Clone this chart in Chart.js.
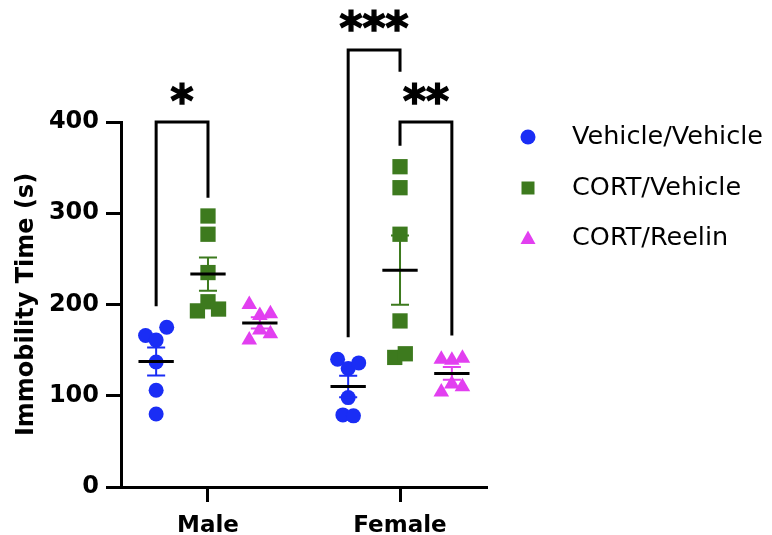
<!DOCTYPE html>
<html>
<head>
<meta charset="utf-8">
<script src="https://cdn.jsdelivr.net/npm/chart.js@4.4.1/dist/chart.umd.min.js"></script>
<style>
  html, body { margin: 0; padding: 0; background: #fff; }
</style>
</head>
<body>
<canvas id="immobility" width="772" height="535"></canvas>
<script>
const sexes = ['Male', 'Female'];
const groups = ['Vehicle/Vehicle', 'CORT/Vehicle', 'CORT/Reelin'];
const groupColors = ['#1a2df5', '#3d7a1e', '#e23ff0'];
const groupShapes = ['circle', 'rect', 'triangle'];
const groupRadius = [7.5, 10.8, 9];

// immobility time (s) per animal, [male, female]
const vehicleVehicle = [
  [166, 161, 175, 137, 106, 80],
  [140, 130, 136, 98, 79, 78]
];
const cortVehicle = [
  [193, 203, 195, 235, 277, 297],
  [351, 328, 277, 182, 142, 146]
];
const cortReelin = [
  [200, 188, 190, 161, 172, 168],
  [140, 139, 141, 104, 113, 110]
];
const groupValues = [vehicleVehicle, cortVehicle, cortReelin];

// significance brackets
const sigSex = [0, 1, 1];
const sigFrom = [0, 0, 1];
const sigTo = [1, 1, 2];
const sigTop = [400, 479, 400];
const sigLeftEnd = [198, 164, 374];
const sigRightEnd = [317, 455, 166];
const sigLabels = ['*', '***', '**'];

const groupOffset = [-0.27, 0, 0.27];
const jitterStep = 0.055;
const FONT = 'DejaVu Sans';

// spread points that sit close together (simple beeswarm)
function spreadX(values, center) {
  const order = values.map((v, i) => i).sort((a, b) => values[a] - values[b]);
  const clusters = [];
  order.forEach(i => {
    const last = clusters[clusters.length - 1];
    if (last && values[i] - values[last[last.length - 1]] < 12) last.push(i);
    else clusters.push([i]);
  });
  const xs = new Array(values.length);
  clusters.forEach(c => {
    c.sort((a, b) => a - b);
    c.forEach((idx, k) => { xs[idx] = center + (k - (c.length - 1) / 2) * jitterStep; });
  });
  return xs;
}

function mean(arr) { return arr.reduce((a, b) => a + b, 0) / arr.length; }
function sem(arr) {
  const m = mean(arr);
  const v = arr.reduce((a, b) => a + (b - m) * (b - m), 0) / (arr.length - 1);
  return Math.sqrt(v / arr.length);
}

const datasets = groups.map((g, gi) => {
  const pts = [];
  sexes.forEach((s, si) => {
    const vals = groupValues[gi][si];
    const xs = spreadX(vals, si + 1 + groupOffset[gi]);
    vals.forEach((v, k) => pts.push({ x: xs[k], y: v }));
  });
  return {
    label: g,
    data: pts,
    pointStyle: groupShapes[gi],
    pointRadius: groupRadius[gi],
    pointHoverRadius: groupRadius[gi],
    backgroundColor: groupColors[gi],
    borderColor: groupColors[gi],
    borderWidth: 0,
    clip: false
  };
});

const summaryPlugin = {
  id: 'summary',
  afterDatasetsDraw(chart) {
    const { ctx, scales: { x, y } } = chart;
    ctx.save();
    groups.forEach((g, gi) => {
      sexes.forEach((s, si) => {
        const vals = groupValues[gi][si];
        const m = mean(vals), e = sem(vals);
        const cx = si + 1 + groupOffset[gi];
        const px = x.getPixelForValue(cx);
        const capHalf = x.getPixelForValue(cx + 0.047) - px;
        const meanHalf = x.getPixelForValue(cx + 0.092) - px;
        // error bar
        ctx.strokeStyle = groupColors[gi];
        ctx.lineWidth = 2;
        ctx.beginPath();
        ctx.moveTo(px, y.getPixelForValue(m + e));
        ctx.lineTo(px, y.getPixelForValue(m - e));
        ctx.moveTo(px - capHalf, y.getPixelForValue(m + e));
        ctx.lineTo(px + capHalf, y.getPixelForValue(m + e));
        ctx.moveTo(px - capHalf, y.getPixelForValue(m - e));
        ctx.lineTo(px + capHalf, y.getPixelForValue(m - e));
        ctx.stroke();
        // mean line
        ctx.strokeStyle = '#000';
        ctx.lineWidth = 3;
        ctx.beginPath();
        ctx.moveTo(px - meanHalf, y.getPixelForValue(m));
        ctx.lineTo(px + meanHalf, y.getPixelForValue(m));
        ctx.stroke();
      });
    });
    ctx.restore();
  },
  afterDraw(chart) {
    const { ctx, scales: { x, y } } = chart;
    ctx.save();
    // brackets
    ctx.strokeStyle = '#000';
    ctx.lineJoin = 'miter';
    ctx.fillStyle = '#000';
    ctx.font = 'bold 44px ' + FONT;
    ctx.textAlign = 'center';
    ctx.textBaseline = 'alphabetic';
    sigLabels.forEach((lab, i) => {
      const x1 = x.getPixelForValue(sigSex[i] + 1 + groupOffset[sigFrom[i]]);
      const x2 = x.getPixelForValue(sigSex[i] + 1 + groupOffset[sigTo[i]]);
      const top = y.getPixelForValue(sigTop[i]);
      ctx.lineWidth = 3;
      ctx.beginPath();
      ctx.moveTo(x1, y.getPixelForValue(sigLeftEnd[i]));
      ctx.lineTo(x1, top);
      ctx.lineTo(x2, top);
      ctx.lineTo(x2, y.getPixelForValue(sigRightEnd[i]));
      ctx.stroke();
      const ty = top - 6.5;
      ctx.fillText(lab, (x1 + x2) / 2, ty);
      ctx.lineWidth = 1.5;
      ctx.strokeText(lab, (x1 + x2) / 2, ty);
    });
    // legend
    const lx = 528, tx = 572;
    const rows = [137, 188, 238];
    groups.forEach((g, gi) => {
      const ly = rows[gi];
      ctx.fillStyle = groupColors[gi];
      ctx.beginPath();
      if (groupShapes[gi] === 'circle') {
        ctx.arc(lx, ly, 7.5, 0, Math.PI * 2);
      } else if (groupShapes[gi] === 'rect') {
        ctx.rect(lx - 6.5, ly - 6.5, 13, 13);
      } else {
        ctx.moveTo(lx, ly - 7.5);
        ctx.lineTo(lx + 7.5, ly + 6);
        ctx.lineTo(lx - 7.5, ly + 6);
        ctx.closePath();
      }
      ctx.fill();
      ctx.fillStyle = '#000';
      ctx.font = '25.5px ' + FONT;
      ctx.textAlign = 'left';
      ctx.textBaseline = 'middle';
      ctx.fillText(g, tx, ly);
    });
    ctx.restore();
  }
};

const axisGrid = { drawOnChartArea: false, tickLength: 15, tickWidth: 3, tickColor: '#000' };
const axisBorder = { color: '#000', width: 3 };

new Chart(document.getElementById('immobility'), {
  type: 'scatter',
  data: { datasets },
  options: {
    responsive: false,
    animation: false,
    devicePixelRatio: 1,
    layout: { padding: { top: 122, right: 285, bottom: 0, left: 0 } },
    plugins: { legend: { display: false }, tooltip: { enabled: false } },
    scales: {
      x: {
        type: 'linear',
        min: 0.547,
        max: 2.453,
        afterBuildTicks: s => { s.ticks = sexes.map((n, i) => ({ value: i + 1 })); },
        afterFit: s => { s.height = 48; },
        ticks: {
          autoSkip: false,
          maxRotation: 0,
          color: '#000',
          padding: 10,
          font: { family: FONT, weight: 'bold', size: 23 },
          callback: v => sexes[Math.round(v) - 1]
        },
        grid: axisGrid,
        border: axisBorder
      },
      y: {
        min: 0,
        max: 400,
        afterFit: s => { s.width = 121; },
        ticks: {
          stepSize: 100,
          color: '#000',
          padding: 7,
          font: { family: FONT, weight: 'bold', size: 24 }
        },
        grid: axisGrid,
        border: axisBorder,
        title: {
          display: true,
          text: 'Immobility Time (s)',
          color: '#000',
          font: { family: FONT, weight: 'bold', size: 24 },
          padding: { top: 12, bottom: 0 }
        }
      }
    }
  },
  plugins: [summaryPlugin]
});
</script>
</body>
</html>
